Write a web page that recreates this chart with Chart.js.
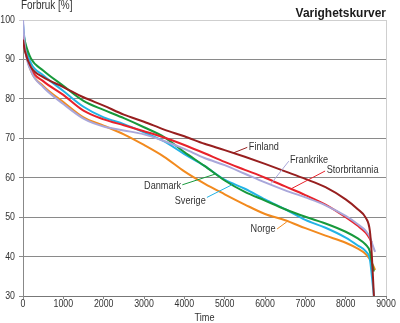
<!DOCTYPE html>
<html><head><meta charset="utf-8">
<script src="https://cdn.jsdelivr.net/npm/chart.js@4.4.0/dist/chart.umd.min.js"></script>
<style>html,body{margin:0;padding:0;background:#fff;}</style>
</head><body>
<canvas id="c" width="400" height="323"></canvas>
<script>
// Hours of the year (x values shared by all series)
const hours = [0, 50, 200, 500, 1000, 1500, 2000, 2500, 3000, 3500, 4000, 4500, 5000, 5500, 6000, 6500, 7000, 7500, 8000, 8300, 8500, 8600, 8650, 8700, 8730];

// Consumption in % of peak
const finland      = [95, 92, 88, 85.5, 83, 80.4, 78.3, 76, 74.2, 72.2, 70.5, 68.6, 67, 65.3, 63.5, 61.6, 59.7, 57.6, 54.5, 52, 49.8, 46.5, 40, 30, null];
const frankrike    = [100, 93, 87, 83, 78.7, 75, 73, 72, 71, 69.3, 67.3, 65, 63.2, 61, 58.8, 56.8, 55, 53, 50.3, 48.2, 46.5, 45, 43.5, 42, 41.2];
const storbritannia= [96, 92.5, 87.5, 84.5, 81, 77, 74.8, 73.3, 71.8, 70.2, 68.3, 66.2, 64, 62, 60, 57.8, 55.6, 53.2, 50, 47.8, 46, 44.5, 43.5, null, null];
const danmark      = [97, 94.5, 90.2, 87.2, 83.3, 79.5, 77.2, 75.1, 72.8, 70.3, 66.5, 63, 59.3, 56.4, 54.2, 52, 50.1, 48.4, 46.3, 44.6, 43, 41.3, 38.5, 36.2, null];
const sverige      = [99, 94, 89, 86, 82, 78, 75.3, 73.6, 71.5, 69.2, 66, 63, 59.5, 57.2, 54.5, 52, 49.3, 47.3, 44.8, 42.8, 41.3, 39.3, 35, 30, null];
const norge        = [97, 93, 87, 83.3, 79.2, 75.3, 73.2, 71, 68.3, 65.3, 61.6, 58.5, 55.8, 53.2, 50.8, 49.2, 47.2, 45.3, 43.5, 42, 40.6, 39.3, 38.3, 37.3, 36.6];

const seriesNames = ['Finland', 'Frankrike', 'Storbritannia', 'Danmark', 'Sverige', 'Norge'];
const xTickValues = [0, 1000, 2000, 3000, 4000, 5000, 6000, 7000, 8000, 9000];
const yTickValues = [30, 40, 50, 60, 70, 80, 90, 100];
const yAxisTitle = 'Forbruk [%]';
const xAxisTitle = 'Time';
const chartTitle = 'Varighetskurver';

const COLORS = {
  Finland: '#971f1f',
  Frankrike: '#a9a7da',
  Storbritannia: '#e8222b',
  Danmark: '#17993b',
  Sverige: '#22b3e6',
  Norge: '#f28a1e'
};
const FONT = "'Liberation Sans', Arial, sans-serif";

function pts(arr) { return hours.map((h, i) => ({x: h, y: arr[i]})); }
const seriesData = [finland, frankrike, storbritannia, danmark, sverige, norge];

// label annotations in data coordinates: text anchor, leader start, leader end
const callouts = [
  {name: 'Finland',       tx: 5600, ty: 67.8, align: 'left',  ax: 5560, ay: 67.7, bx: 5220, by: 66.3},
  {name: 'Frankrike',     tx: 6620, ty: 64.4, align: 'left',  ax: 6590, ay: 64.2, bx: 6150, by: 58.5},
  {name: 'Storbritannia', tx: 7530, ty: 61.9, align: 'left',  ax: 7490, ay: 61.7, bx: 6650, by: 57.2},
  {name: 'Danmark',       tx: 3920, ty: 57.8, align: 'right', ax: 3950, ay: 58.2, bx: 4760, by: 60.9},
  {name: 'Sverige',       tx: 4530, ty: 54.0, align: 'right', ax: 4560, ay: 55.0, bx: 5180, by: 58.2},
  {name: 'Norge',         tx: 6260, ty: 47.1, align: 'right', ax: 6300, ay: 47.0, bx: 6540, by: 48.8}
];

// draw narrow (condensed) text by scaling horizontally
function narrowText(ctx, text, x, y, align, sx) {
  ctx.save();
  ctx.translate(x, y);
  ctx.scale(sx, 1);
  ctx.textAlign = align;
  ctx.fillText(text, 0, 0);
  ctx.restore();
}

const textPlugin = {
  id: 'texts',
  afterDraw(chart) {
    const ctx = chart.ctx;
    const xs = chart.scales.x, ys = chart.scales.y;
    const ca = chart.chartArea;
    ctx.save();
    ctx.textBaseline = 'middle';
    ctx.fillStyle = '#333';
    // axis tick labels
    ctx.font = '11px ' + FONT;
    yTickValues.forEach(v => narrowText(ctx, String(v), 15, ys.getPixelForValue(v), 'right', 0.8));
    xTickValues.forEach(v => narrowText(ctx, String(v), xs.getPixelForValue(v), 303.5, 'center', 0.8));
    narrowText(ctx, xAxisTitle, (ca.left + ca.right) / 2, 317.5, 'center', 0.83);
    ctx.font = '12px ' + FONT;
    narrowText(ctx, yAxisTitle, 21, 6, 'left', 0.83);
    ctx.font = 'bold 13px ' + FONT;
    ctx.fillStyle = '#1a1a1a';
    narrowText(ctx, chartTitle, 386, 13, 'right', 0.92);
    ctx.font = '11px ' + FONT;
    callouts.forEach(c => {
      ctx.strokeStyle = COLORS[c.name];
      ctx.lineWidth = 1;
      ctx.beginPath();
      ctx.moveTo(xs.getPixelForValue(c.ax), ys.getPixelForValue(c.ay));
      ctx.lineTo(xs.getPixelForValue(c.bx), ys.getPixelForValue(c.by));
      ctx.stroke();
      ctx.fillStyle = '#333';
      narrowText(ctx, c.name, xs.getPixelForValue(c.tx), ys.getPixelForValue(c.ty), c.align, 0.83);
    });
    ctx.restore();
  }
};

new Chart(document.getElementById('c'), {
  type: 'line',
  data: {
    datasets: seriesNames.map((n, i) => ({
      label: n,
      data: pts(seriesData[i]),
      borderColor: COLORS[n],
      backgroundColor: COLORS[n],
      borderWidth: 2,
      pointRadius: 0,
      cubicInterpolationMode: 'monotone',
      spanGaps: false,
      fill: false
    }))
  },
  options: {
    responsive: false,
    devicePixelRatio: 1,
    animation: false,
    layout: {padding: {top: 20, right: 14, left: 0, bottom: 0}},
    plugins: {legend: {display: false}, title: {display: false}, tooltip: {enabled: false}},
    scales: {
      x: {
        type: 'linear', min: 0, max: 9000,
        afterBuildTicks: s => { s.ticks = xTickValues.map(v => ({value: v})); },
        afterFit: s => { s.height = 27; },
        ticks: {display: false},
        grid: {
          color: c => (c.tick && c.tick.value === 9000) ? '#cfcfcf' : 'rgba(0,0,0,0)',
          tickColor: '#888', tickLength: 3, drawOnChartArea: true
        },
        border: {color: '#777', width: 1}
      },
      y: {
        type: 'linear', min: 30, max: 100,
        afterBuildTicks: s => { s.ticks = yTickValues.map(v => ({value: v})); },
        afterFit: s => { s.width = 23; },
        ticks: {display: false},
        grid: {
          color: c => (c.tick && c.tick.value === 100) ? '#cfcfcf' : '#8a8a8a',
          tickColor: c => (c.tick && c.tick.value === 100) ? '#cfcfcf' : '#8a8a8a',
          tickLength: 4
        },
        border: {color: '#888', width: 1}
      }
    }
  },
  plugins: [textPlugin]
});
</script>
</body></html>
